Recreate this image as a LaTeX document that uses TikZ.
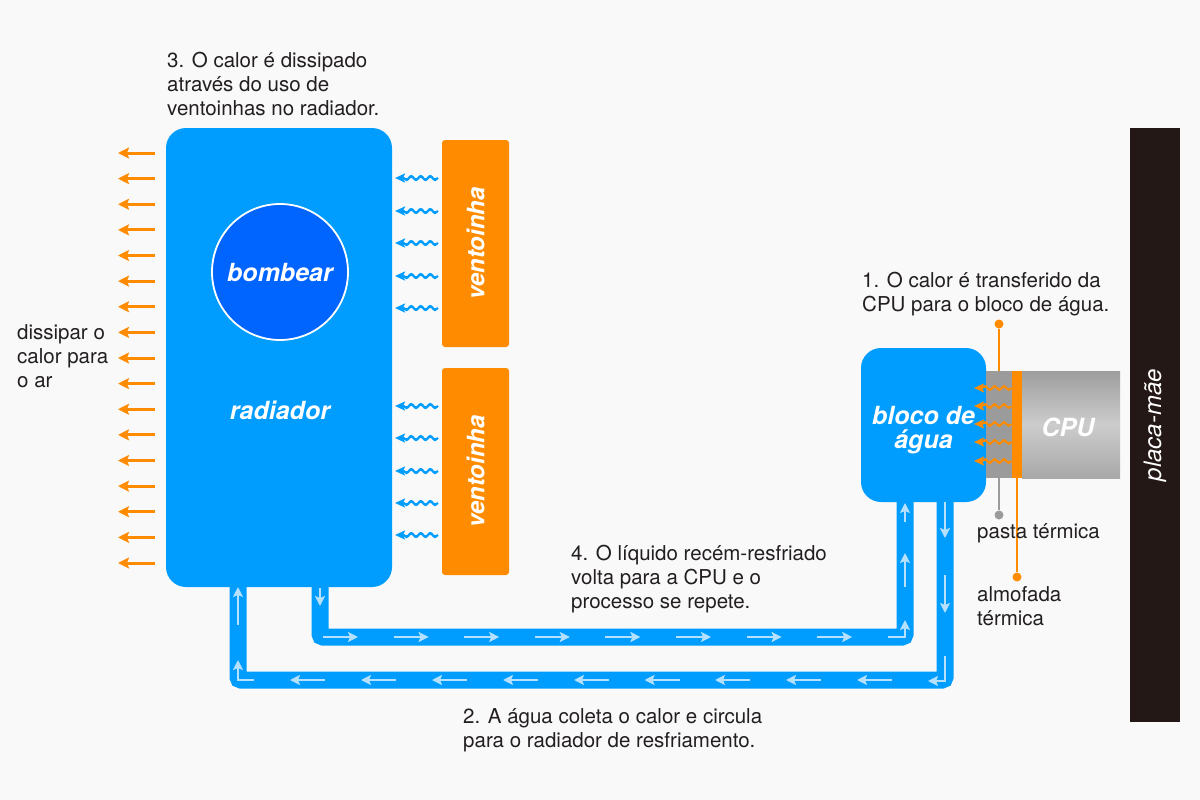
\documentclass[tikz,border=0pt]{standalone}
\usepackage{fontspec}
\setmainfont{TeX Gyre Heros}
\usetikzlibrary{arrows.meta,decorations.pathmorphing,calc}
\definecolor{bg}{HTML}{F9F9F9}
\definecolor{rblue}{HTML}{009DFF}
\definecolor{pblue}{HTML}{0064FF}
\definecolor{orng}{HTML}{FF8C00}
\definecolor{lblue}{HTML}{B5E1FF}
\definecolor{mobo}{HTML}{231815}
\definecolor{pastec}{HTML}{9B9B9B}
\definecolor{txt}{HTML}{231F20}
\tikzset{
  body/.style={font=\fontsize{20.5}{24}\selectfont, text=txt, anchor=north west, inner sep=0pt, align=left, execute at begin node=\rule{0pt}{17pt}},
  lbl/.style={font=\fontsize{25}{24}\selectfont\bfseries\itshape, text=white, align=center, inner sep=0pt},
  pipe/.style={draw=rblue, line width=17pt, rounded corners=3pt},
  flow/.style={draw=lblue, line width=2.6pt, -{Stealth[length=10pt,width=10pt,inset=2pt]}},
  airout/.style={draw=orng, line width=3pt, -{Stealth[length=11pt,width=11pt,inset=2pt]}},
  wave/.style={line width=2.2pt, decorate, decoration={snake, amplitude=2pt, segment length=9.5pt, post length=7pt}, -{Stealth[length=10pt,width=9pt,inset=2pt]}},
  dotend/.style={circle, fill=#1, inner sep=0pt, minimum size=9pt}
}
\begin{document}
\begin{tikzpicture}[x=1pt,y=-1pt]
\fill[bg] (0,0) rectangle (1200,800);
\useasboundingbox (0,0) rectangle (1200,800);

% pipes
\coordinate (a1) at (320,570);
\coordinate (a2) at (320,637);
\coordinate (a3) at (905,637);
\coordinate (a4) at (905,490);
\coordinate (b1) at (945,490);
\coordinate (b2) at (945,680);
\coordinate (b3) at (238,680);
\coordinate (b4) at (238,570);
\draw[pipe] (a1) -- (a2) -- (a3) -- (a4);
\draw[pipe] (b1) -- (b2) -- (b3) -- (b4);

% radiator
\node[fill=rblue, rounded corners=20pt, minimum width=226pt, minimum height=459pt, inner sep=0pt] (rad) at (279,357.5) {};
\node[circle, fill=pblue, draw=white, line width=1.8pt, minimum size=136pt, inner sep=0pt] (pump) at (280,272) {};
\node[lbl] (pumpt) at (pump.center) {bombear};
\node[lbl] (radt) at (280,410) {radiador};

% fans
\node[fill=orng, rounded corners=3pt, rotate=90, minimum width=207pt, minimum height=67pt, inner sep=0pt, font=\fontsize{24}{24}\selectfont\bfseries\itshape, text=white] (fan1) at (475.5,243.5) {ventoinha};
\node[fill=orng, rounded corners=3pt, rotate=90, minimum width=207pt, minimum height=67pt, inner sep=0pt, font=\fontsize{24}{24}\selectfont\bfseries\itshape, text=white] (fan2) at (475.5,471.5) {ventoinha};
\foreach \y in {178,211,243,276,308,406,438,471,503,535}
  \draw[wave, draw=rblue, fill=rblue] (438,\y) -- (395,\y);

% air out
\foreach \i in {0,...,16}
  \draw[airout] (155,{153+25.625*\i}) -- (118,{153+25.625*\i});

% water block, paste, pad, cpu
\node[fill=rblue, rounded corners=20pt, minimum width=125pt, minimum height=154pt, inner sep=0pt] (blk) at (923.5,425) {};
\node[lbl] (blkt) at (923.5,430) {bloco de\\água};
\node[fill=pastec, minimum width=26pt, minimum height=107pt, inner sep=0pt] (paste) at (999,424.5) {};
\node[fill=orng, minimum width=10pt, minimum height=107pt, inner sep=0pt] (pad) at (1017,424.5) {};
\shade[left color=black!38, right color=black!34, middle color=black!20, shading angle=0] (1022,371) rectangle (1120,478);
\node[minimum width=98pt, minimum height=107pt, inner sep=0pt] (cpu) at (1071,424.5) {};
\node[lbl, text=white] (cput) at (1068,427) {CPU};
\foreach \y in {388,406,424,442,461}
  \draw[wave, draw=orng, fill=orng, line width=1.8pt] (pad.west |- 0,\y) -- (974,\y);

% leaders
\node[dotend=orng] (d1) at (999,324) {};
\draw[orng, line width=2pt] (d1) -- (paste.north);
\node[dotend=pastec] (d2) at (999,515) {};
\draw[pastec, line width=2pt] (paste.south) -- (d2);
\node[dotend=orng] (d3) at (1017,577) {};
\draw[orng, line width=2pt] (pad.south) -- (d3);

% motherboard
\node[fill=mobo, rotate=90, minimum width=594pt, minimum height=50pt, inner sep=0pt, font=\fontsize{24}{24}\selectfont\itshape, text=white] (mb) at (1155,425) {placa-mãe};

% flow arrows
\foreach \x in {323,393.6,464.2,534.8,605.4,676,746.6,817.2}
  \draw[flow] (\x,637) -- ({\x+35},637);
\draw[flow] (888,637) -- (905,637) -- (905,620);
\draw[flow] (905,587) -- (905,553);
\draw[flow] (905,522) -- (905,503);
\draw[flow] (320,588) -- (320,606);
\draw[flow] (945,502) -- (945,538);
\draw[flow] (945,575) -- (945,613);
\draw[flow] (945,656) -- (945,681) -- (928,681);
\foreach \x in {290,361,432,503,574,644.5,715,786,857}
  \draw[flow] ({\x+35},680) -- (\x,680);
\draw[flow] (254,680) -- (238,680) -- (238,660);
\draw[flow] (238,625) -- (238,587);

% texts
\node[body] (t3) at (167,52) {3. O calor é dissipado\\através do uso de\\ventoinhas no radiador.};
\node[body] (tair) at (17,324) {dissipar o\\calor para\\o ar};
\node[body] (t1) at (862,272) {1. O calor é transferido da\\CPU para o bloco de água.};
\node[body] (tpaste) at (977,521) {pasta térmica};
\node[body] (tpad) at (977,586) {almofada\\térmica};
\node[body] (t4) at (571,545) {4. O líquido recém-resfriado\\volta para a CPU e o\\processo se repete.};
\node[body] (t2) at (463,708) {2. A água coleta o calor e circula\\para o radiador de resfriamento.};
\end{tikzpicture}
\end{document}
